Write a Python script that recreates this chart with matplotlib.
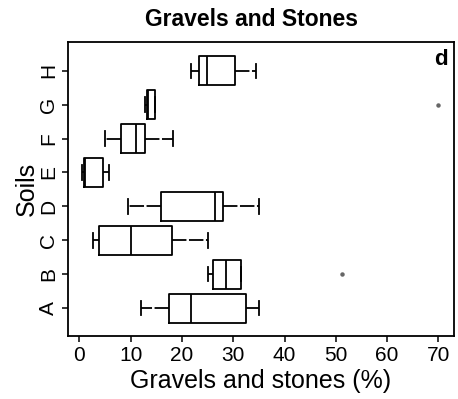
import matplotlib
matplotlib.use("Agg")
import matplotlib.pyplot as plt

plt.rcParams['font.family'] = ['Liberation Sans', 'DejaVu Sans']

# Soil groups and box statistics (gravels and stones, %)
soils = ["A", "B", "C", "D", "E", "F", "G", "H"]
whislo = [12.0, 25.0, 2.7, 9.4, 0.6, 5.0, 12.9, 21.7]
q1 = [17.5, 26.0, 3.8, 15.9, 1.0, 8.1, 13.2, 23.3]
med = [21.7, 28.5, 10.0, 26.5, 1.1, 11.0, 13.3, 24.9]
q3 = [32.4, 31.6, 18.0, 28.0, 4.6, 12.8, 14.8, 30.4]
whishi = [35.0, 31.6, 25.0, 35.0, 5.8, 18.3, 14.8, 34.5]
outliers = [[], [51.1], [], [], [], [], [69.9], []]

stats = []
for i, s in enumerate(soils):
    stats.append({"label": s, "whislo": whislo[i], "q1": q1[i], "med": med[i],
                  "q3": q3[i], "whishi": whishi[i], "fliers": outliers[i]})

fig = plt.figure(figsize=(4.58, 3.99), dpi=100)
ax = fig.add_axes([0.1485, 0.158, 0.8425, 0.737])

lw = 1.3
ax.bxp(stats, positions=range(1, len(soils) + 1), widths=0.85,
       orientation='horizontal',
       boxprops=dict(color="black", linewidth=lw),
       medianprops=dict(color="black", linewidth=lw),
       whiskerprops=dict(color="black", linewidth=lw, linestyle=(0, (8, 1.4))),
       capprops=dict(color="black", linewidth=lw),
       flierprops=dict(marker="o", markersize=2.2, markerfacecolor="#666666",
                       markeredgecolor="#666666"))

ax.set_xlim(-2.2, 73)
ax.set_ylim(0.18, 8.85)
ax.set_xticks(range(0, 80, 10))
ax.set_yticks(range(1, len(soils) + 1))
ax.set_yticklabels(soils, rotation=90, va="center")
ax.tick_params(direction="out", length=4, width=1.1, labelsize=15, pad=3)
for sp in ax.spines.values():
    sp.set_linewidth(1.3)

ax.set_xlabel("Gravels and stones (%)", fontsize=18, labelpad=3)
ax.set_ylabel("Soils", fontsize=18, labelpad=0)
fig.text(0.549, 0.935, "Gravels and Stones", ha="center", va="baseline",
         fontsize=16.5, fontweight="bold")
ax.text(0.985, 0.975, "d", transform=ax.transAxes, ha="right", va="top",
        fontsize=16, fontweight="bold")

fig.savefig("out.png", dpi=100)
